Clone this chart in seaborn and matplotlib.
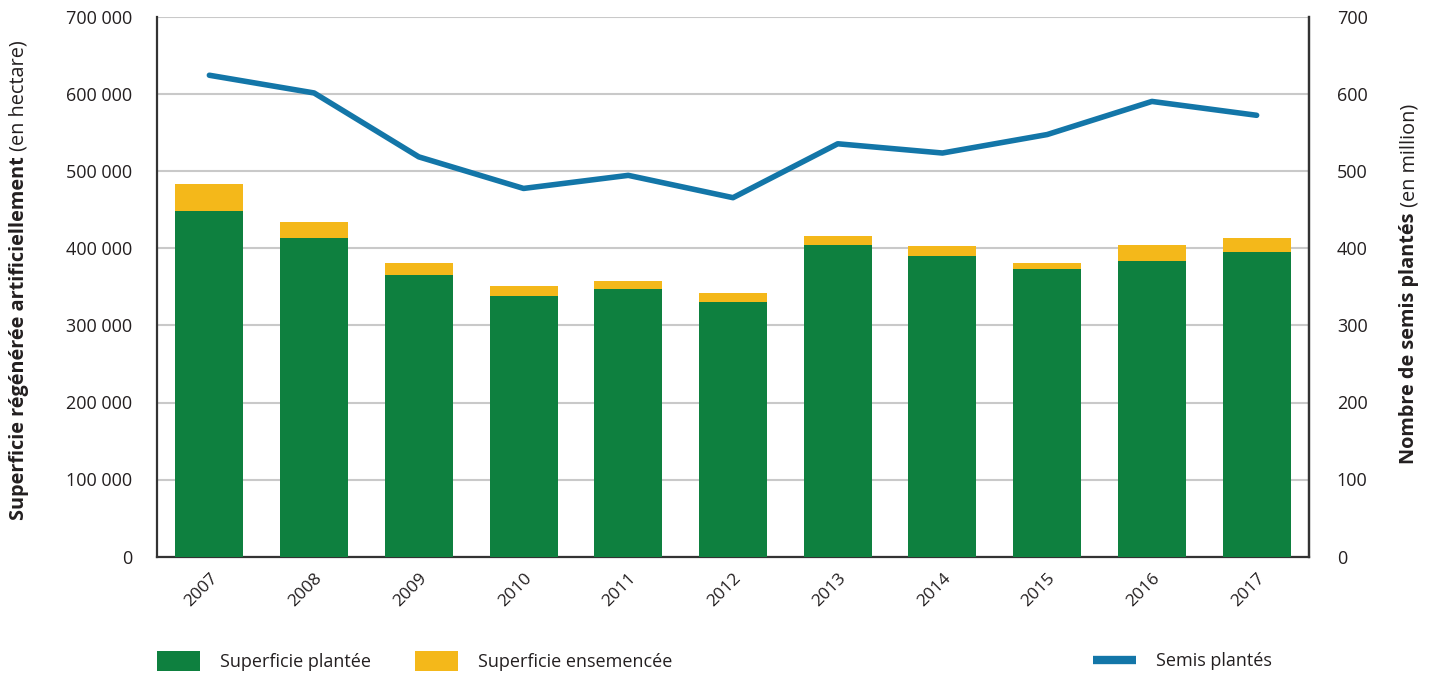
import numpy as np
import pandas as pd
import matplotlib
matplotlib.use("Agg")
import matplotlib.pyplot as plt
from matplotlib.ticker import FuncFormatter, MultipleLocator
from matplotlib.patches import Patch
from matplotlib.lines import Line2D
import seaborn as sns

# Data
years = ["2007", "2008", "2009", "2010", "2011", "2012",
         "2013", "2014", "2015", "2016", "2017"]
superficie_plantee = [449000, 414000, 366000, 338000, 347000, 331000,
                      405000, 390000, 373000, 384000, 396000]
superficie_ensemencee = [35000, 21000, 15000, 13000, 11000, 11000,
                         11000, 13000, 8000, 21000, 18000]
semis_plantes = [625, 602, 519, 478, 495, 466, 536, 524, 548, 591, 573]

GREEN = "#0e803f"
YELLOW = "#f4b81a"
BLUE = "#1376a8"
TEXT = "#231f20"

sns.set_theme(style="white")
plt.rcParams["font.family"] = ["Open Sans", "DejaVu Sans"]

df = pd.DataFrame({
    "annee": years,
    "plantee": superficie_plantee,
    "ensemencee": superficie_ensemencee,
})
df["total"] = df["plantee"] + df["ensemencee"]

fig = plt.figure(figsize=(14.33, 6.73), dpi=100)
ax = fig.add_axes([157 / 1433, 1 - 556.5 / 673, (1309 - 157) / 1433, 539 / 673])

# Stacked bars: total (seeded on top) drawn first, planted area over it
sns.barplot(data=df, x="annee", y="total", color=YELLOW, width=0.65,
            saturation=1, linewidth=0, edgecolor="none", ax=ax, zorder=2)
sns.barplot(data=df, x="annee", y="plantee", color=GREEN, width=0.65,
            saturation=1, linewidth=0, edgecolor="none", ax=ax, zorder=3)

ax.set_ylim(0, 700000)
ax.set_xlim(-0.5, len(years) - 0.5)
ax.yaxis.set_major_locator(MultipleLocator(100000))
ax.yaxis.set_major_formatter(FuncFormatter(lambda v, p: f"{int(v):,}".replace(",", " ")))
ax.grid(axis="y", color="#c9c9c9", linewidth=1.5, zorder=0)
ax.set_axisbelow(True)
ax.set_xlabel("")
ax.set_ylabel("")
ax.tick_params(axis="y", length=0, pad=18, labelsize=13, labelcolor=TEXT)
ax.tick_params(axis="x", length=0, pad=10, labelsize=12.5, labelcolor=TEXT)
for lbl in ax.get_xticklabels():
    lbl.set_rotation(45)
    lbl.set_ha("right")
    lbl.set_rotation_mode("anchor")

for side in ["left", "bottom", "right"]:
    ax.spines[side].set_visible(True)
    ax.spines[side].set_color("#333333")
    ax.spines[side].set_linewidth(1.6)
ax.spines["top"].set_visible(False)

# Seedlings line on the right axis
ax2 = ax.twinx()
sns.lineplot(x=np.arange(len(years)), y=semis_plantes, color=BLUE,
             linewidth=4, ax=ax2, zorder=4)
ax2.set_ylim(0, 700)
ax2.yaxis.set_major_locator(MultipleLocator(100))
ax2.tick_params(axis="y", length=0, pad=20, labelsize=13, labelcolor=TEXT)
ax2.set_ylabel("")
for side in ["left", "bottom", "top"]:
    ax2.spines[side].set_visible(False)
ax2.spines["right"].set_color("#333333")
ax2.spines["right"].set_linewidth(1.6)

# Axis titles with a bold part and a regular part
fig.canvas.draw()
renderer = fig.canvas.get_renderer()


def two_part_label(x, y_center, bold, regular, size=14.3):
    t1 = fig.text(x, 0, bold, rotation=90, fontsize=size, fontweight="bold",
                  color=TEXT, ha="center", va="bottom")
    t2 = fig.text(x, 0, regular, rotation=90, fontsize=size, color=TEXT,
                  ha="center", va="bottom")
    h1 = t1.get_window_extent(renderer).height / fig.bbox.height
    h2 = t2.get_window_extent(renderer).height / fig.bbox.height
    start = y_center - (h1 + h2) / 2
    t1.set_y(start)
    t2.set_y(start + h1)


two_part_label(19 / 1433, 1 - 280 / 673,
               "Superficie régénérée artificiellement", " (en hectare)")
two_part_label(1409 / 1433, 1 - 284 / 673,
               "Nombre de semis plantés", " (en million)")

# Legends along the bottom
bar_handles = [Patch(facecolor=GREEN, edgecolor="none", label="Superficie plantée"),
               Patch(facecolor=YELLOW, edgecolor="none", label="Superficie ensemencée")]
leg1 = fig.legend(handles=bar_handles, loc="center left",
                  bbox_to_anchor=(157 / 1433, 1 - 661 / 673), ncol=2,
                  frameon=False, fontsize=13, handlelength=2.4, handleheight=1.3,
                  handletextpad=1.1, columnspacing=2.4, borderpad=0,
                  borderaxespad=0, labelcolor=TEXT)
line_handle = [Line2D([0], [0], color=BLUE, linewidth=6, solid_capstyle="butt",
                      label="Semis plantés")]
leg2 = fig.legend(handles=line_handle, loc="center left",
                  bbox_to_anchor=(1093 / 1433, 1 - 661 / 673),
                  frameon=False, fontsize=13, handlelength=2.4,
                  handletextpad=1.1, borderpad=0, borderaxespad=0,
                  labelcolor=TEXT)

fig.savefig("out.png", dpi=100)
